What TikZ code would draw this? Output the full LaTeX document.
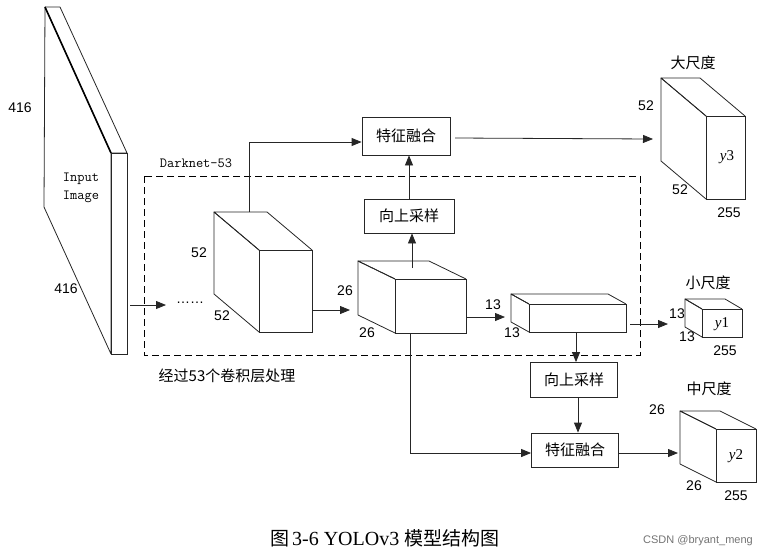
\documentclass[tikz,border=0pt]{standalone}
\usepackage{fontspec}
\setmainfont{Liberation Serif}
\setsansfont{Liberation Sans}
\newfontfamily\cjk{Noto Sans CJK SC}
\usetikzlibrary{arrows.meta,calc}
\newcommand\mycube[7]{% name, fx, fy, w, h, dx, dy
  \node[face,minimum width=#4pt,minimum height=#5pt,anchor=north west] (#1) at (#2,#3) {};
  \draw[edge] (#2,#3) -- ++(-#6,-#7) -- ++(#4,0) -- ++(#6,#7);
  \draw[edge] (#2,#3) -- ++(-#6,-#7) -- ++(0,#5) -- ++(#6,#7);
}
\begin{document}
\begin{tikzpicture}[x=1pt,y=-1pt,
  edge/.style={draw=black!85,line width=0.8pt,line join=round},
  face/.style={draw=black!85,line width=0.8pt,inner sep=0,outer sep=0,rectangle},
  box/.style={draw=black!85,line width=0.8pt,inner sep=0,font=\cjk\fontsize{15}{15}\selectfont},
  arr/.style={line width=0.8pt,draw=black!85,-{Triangle[length=10pt,width=8pt]}},
  num/.style={font=\sffamily\fontsize{14}{14}\selectfont,inner sep=0},
  yl/.style={font=\itshape\fontsize{15}{15}\selectfont,inner sep=0},
  cj/.style={font=\cjk\fontsize{15}{15}\selectfont,inner sep=0}]
\useasboundingbox (0,0) rectangle (771,558);
% input image slab
\draw[edge] (45,7) -- (111,153) -- (111,354) -- (44,207) -- cycle;
\draw[edge] (45,7) -- (60,7) -- (127,153) -- (111,153);
\node[face,minimum width=16pt,minimum height=201pt,anchor=north west] (img) at (111,153) {};
\draw[line width=1.6pt] (45,7) -- (111,153);
\node[num] at (20,108) {416};
\node[num] at (66,289) {416};
\node[font=\ttfamily\fontsize{14}{18}\selectfont,align=center,inner sep=0] (inp) at (81,188) {Input\\Image};
% darknet box
\draw[line width=0.8pt,dash pattern=on 7pt off 4pt] (144,176) rectangle (640,355);
\node[font=\ttfamily\fontsize{14}{14}\selectfont,inner sep=0] (dn) at (196,163) {Darknet-53};
\node[cj] (cap1) at (227,376) {经过53个卷积层处理};
% dots
\coordinate (a0) at (130,305);
\coordinate (a1) at (166,305);
\draw[arr] (a0) -- (a1);
\node[num] (dots) at (190,303) {……};
% cubes
\mycube{c1}{259}{250}{53}{82}{45}{38}
\mycube{c2}{395}{279}{71}{54}{37}{18}
\mycube{c3}{529}{304}{97}{28}{18}{10}
\mycube{y3}{706}{116}{39}{83}{45}{38}
\mycube{y1}{702}{309}{40}{28}{17}{10}
\mycube{y2}{716}{429}{40}{53}{36}{18}
\node[num] at (199,253) {52};
\node[num] at (222,316) {52};
\node[num] at (345,291) {26};
\node[num] at (367,333) {26};
\node[num] at (493,305) {13};
\node[num] at (512,333) {13};
% boxes
\node[box,minimum width=90pt,minimum height=34pt] (up1) at (409,216) {向上采样};
\node[box,minimum width=88pt,minimum height=38pt] (fu1) at (406,136) {特征融合};
\node[box,minimum width=87pt,minimum height=35pt] (up2) at (574,380) {向上采样};
\node[box,minimum width=87pt,minimum height=34pt] (fu2) at (575,450) {特征融合};
% arrows
\draw[arr] (c1.east |- 0,310) -- (350,310);
\draw[arr] (412,268) -- (up1.south -| 412,0);
\draw[arr] (up1.north -| 409,0) -- (fu1.south -| 409,0);
\draw[arr] (249,212) |- (fu1.west |- 0,142);
\draw[arr] (455,138) -- (653,139);
\draw[arr] (c2.east |- 0,317) -- (505,317);
\draw[arr] (630,324) -- (668,324);
\draw[arr] (c3.south -| 576,0) -- (up2.north -| 576,0);
\draw[arr] (up2.south -| 578,0) -- (fu2.north -| 578,0);
\draw[arr] (c2.south -| 410,0) |- (fu2.west |- 0,453);
\draw[arr] (fu2.east |- 0,453) -- (678,453);
% output labels
\node[cj] at (693,63) {大尺度};
\node[num] at (646,106) {52};
\node[num] at (680,190) {52};
\node[num] at (729,213) {255};
\node[yl] at (727,157) {y\upshape3};
\node[cj] at (708,283) {小尺度};
\node[num] at (677,314) {13};
\node[num] at (687,337) {13};
\node[num] at (725,351) {255};
\node[yl] at (722,324) {y\upshape1};
\node[cj] at (709,389) {中尺度};
\node[num] at (657,410) {26};
\node[num] at (694,486) {26};
\node[num] at (736,496) {255};
\node[yl] at (736,456) {y\upshape2};
% caption
\node[inner sep=0] (cap) at (385,538) {{\cjk\fontsize{19}{19}\selectfont 图} \fontsize{20}{20}\selectfont 3-6 YOLOv3 {\cjk\fontsize{19}{19}\selectfont 模型结构图}};
\node[font=\sffamily\fontsize{11}{11}\selectfont,text=black!55,inner sep=0] (wm) at (698,541) {CSDN @bryant\_meng};
\end{tikzpicture}
\end{document}
